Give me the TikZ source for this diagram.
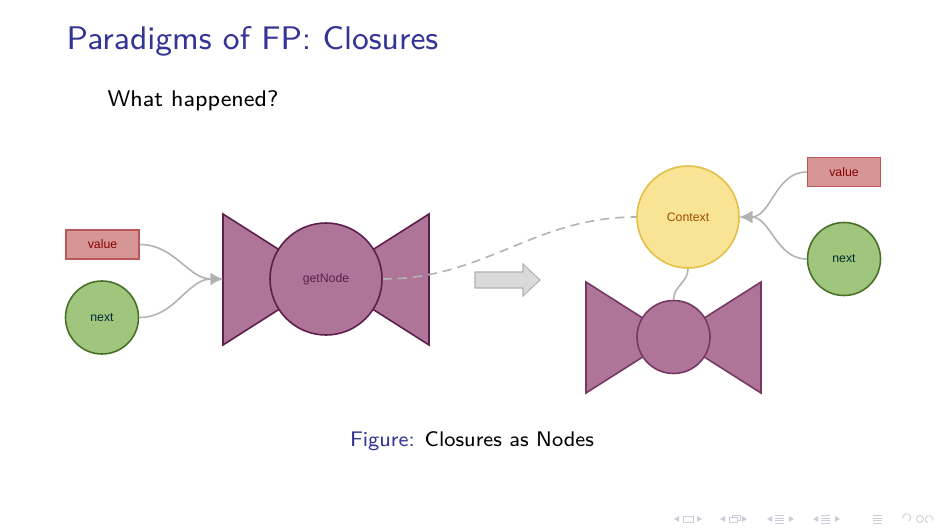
\documentclass[tikz,border=0pt]{standalone}
\usepackage{fontspec}
\newfontfamily\labelfont{Liberation Sans}
\usetikzlibrary{arrows.meta}
\definecolor{beamerblue}{RGB}{52,52,150}
\definecolor{bowfill}{RGB}{174,117,153}
\definecolor{bowline}{RGB}{92,30,76}
\definecolor{valuefill}{RGB}{214,150,150}
\definecolor{valueline}{RGB}{184,88,88}
\definecolor{nextfill}{RGB}{160,197,125}
\definecolor{nextline}{RGB}{72,112,40}
\definecolor{contextfill}{RGB}{249,228,150}
\definecolor{contextline}{RGB}{226,192,72}
\definecolor{navgray}{RGB}{205,205,218}
\begin{document}
\begin{tikzpicture}[>=Latex,font=\sffamily,
 box/.style={font=\labelfont\fontsize{3.5}{4}\selectfont,inner sep=0pt,line width=0.45pt},
 valuebox/.style={box,rectangle,draw=valueline,fill=valuefill,text=red!55!black,minimum width=0.73cm,minimum height=0.29cm},
 nextbox/.style={box,circle,draw=nextline,fill=nextfill,text=green!20!black!80!blue,minimum size=0.73cm},
 bowknot/.style={box,circle,draw=bowline,fill=bowfill,text=bowline},
 bowwing/.style={draw=bowline,fill=bowfill,line width=0.45pt,line join=miter},
 wire/.style={gray!60,line width=0.45pt},
 wirearrow/.style={wire,-{Latex[length=1.25mm,width=1.25mm]}},
 navmark/.style={fill=navgray,draw=none}]
\useasboundingbox (0,0) rectangle (9.44,5.31);
\node[anchor=base west,inner sep=0pt,text=beamerblue,font=\sffamily\fontsize{9.3}{11}\selectfont] (title) at (0.66,4.81) {Paradigms of FP: Closures};
\node[anchor=base west,inner sep=0pt,font=\sffamily\fontsize{6.45}{8}\selectfont] (question) at (1.07,4.24) {What happened?};
% Left side: one closure with its two inputs.
\filldraw[bowwing] (2.23,3.17)--(4.29,1.86)--(4.29,3.17)--(2.23,1.86)--cycle;
\node[bowknot,minimum size=1.12cm] (getnode) at (3.26,2.52) {getNode};
\node[valuebox] (valueL) at (1.025,2.865) {value};
\node[nextbox] (nextL) at (1.02,2.135) {next};
\coordinate (bowin) at (2.23,2.52);
\draw[wirearrow] (valueL.east) to[out=0,in=180] (bowin);
\draw[wirearrow] (nextL.east) to[out=0,in=180] (bowin);
% Right side: the closure carries its context.
\node[box,circle,draw=contextline,fill=contextfill,text=orange!60!black,minimum size=1.02cm] (context) at (6.88,3.14) {Context};
\node[valuebox] (valueR) at (8.44,3.59) {value};
\node[nextbox] (nextR) at (8.44,2.72) {next};
\filldraw[bowwing,draw=bowline!70!bowfill] (5.86,2.49)--(7.61,1.38)--(7.61,2.49)--(5.86,1.38)--cycle;
\node[bowknot,draw=bowline!70!bowfill,minimum size=0.73cm] (knot) at (6.735,1.94) {};
\draw[wirearrow] (valueR.west) to[out=180,in=0] (context.east);
\draw[wirearrow] (nextR.west) to[out=180,in=0] (context.east);
\draw[wire] (context.south) to[out=-90,in=90] (knot.north);
\draw[wire,dash pattern=on 2.6pt off 1.7pt] (getnode.east) to[out=0,in=180] (context.west);
\filldraw[fill=gray!30,draw=gray!60,line width=0.3pt]
 (4.75,2.59)--(5.23,2.59)--(5.23,2.67)--(5.40,2.51)--(5.23,2.35)--(5.23,2.43)--(4.75,2.43)--cycle;
\node[anchor=base,inner sep=0pt,font=\sffamily\fontsize{6}{8}\selectfont] (caption) at (4.72,0.85) {\textcolor{beamerblue}{Figure:} Closures as Nodes};
% Navigation marks, bottom right.
\foreach \xl/\xr in {6.74/7.02,7.20/7.47,7.67/7.94,8.13/8.40}{
 \fill[navmark] (\xl,0.12)--(\xl+0.05,0.15)--(\xl+0.05,0.09)--cycle;
 \fill[navmark] (\xr,0.12)--(\xr-0.05,0.15)--(\xr-0.05,0.09)--cycle;}
\draw[navgray,line width=0.2pt] (6.83,0.09) rectangle (6.93,0.15);
\draw[navgray,line width=0.2pt] (7.29,0.09) rectangle (7.37,0.14) (7.32,0.14)--(7.32,0.16)--(7.40,0.16)--(7.40,0.11)--(7.37,0.11);
\foreach \x in {7.75,8.21,8.73}{
 \foreach \y in {0.08,0.105,0.13,0.155}
  \draw[navgray,line width=0.2pt] (\x,\y)--(\x+0.09,\y);}
\draw[navgray,line width=0.25pt] (9.03,0.12) arc[start angle=200,end angle=-60,radius=0.04]
 (9.20,0.12) circle (0.035) (9.33,0.10) arc[start angle=-20,end angle=240,radius=0.04];
\end{tikzpicture}
\end{document}
